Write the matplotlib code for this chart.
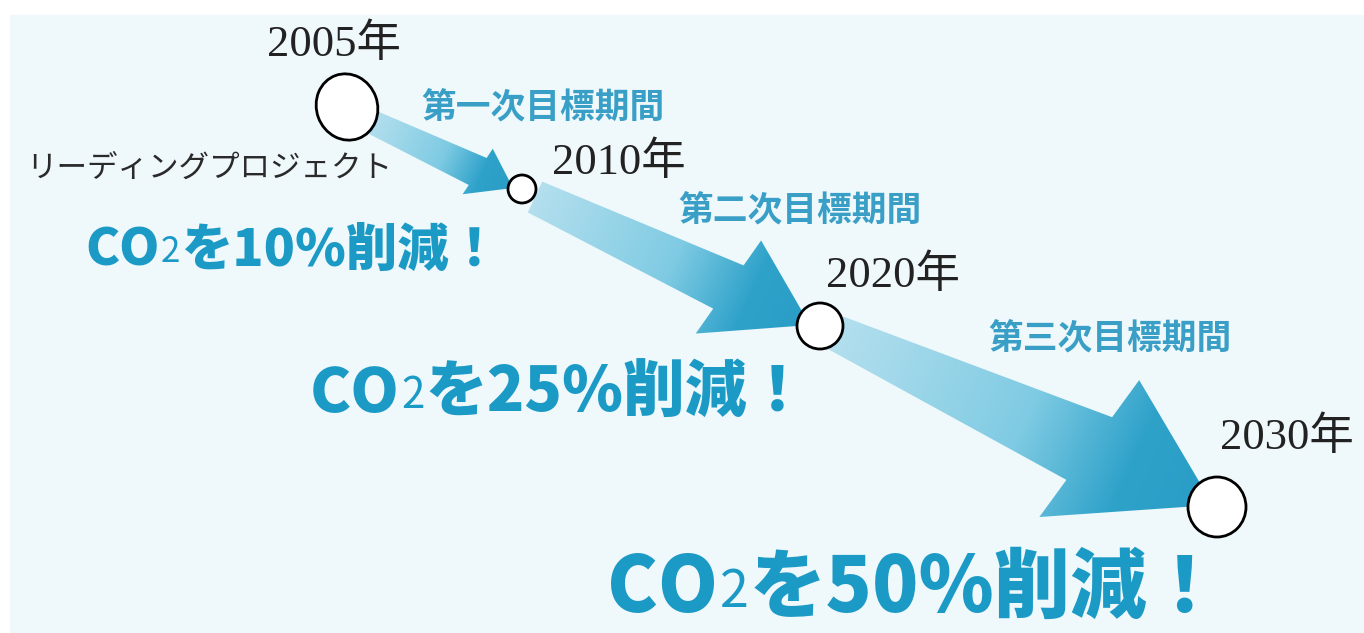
import numpy as np
import matplotlib
matplotlib.use("Agg")
import matplotlib.pyplot as plt
from matplotlib.patches import Polygon, Ellipse, Rectangle
from matplotlib.colors import LinearSegmentedColormap

# ─── DATA ───────────────────────────────────────────────────────────────────
years      = [2005, 2010, 2020, 2030]
cut_pct    = [10, 25, 50]
periods    = ["第一次目標期間", "第二次目標期間", "第三次目標期間"]
lead_label = "リーディングプロジェクト"

# ─── LAYOUT (pixels, y down) ────────────────────────────────────────────────
W, H = 1364, 633
node_xy   = [(347, 107), (522, 189), (820, 326), (1217, 507)]
node_wh   = [(61, 67), (28, 28), (46, 46), (58, 60)]
year_xy   = [(334, 44), (619, 162), (893, 275), (1287, 437)]
period_xy = [(543, 108), (800, 211), (1110, 339)]
big_xy    = [(85, 266), (310, 412), (607, 612)]
big_size  = [37, 44.5, 55]

arrow_tail = [(372, 122), (535, 197), (836, 333)]
arrow_tip  = [(513, 188), (810, 325), (1213, 505)]
shaft_w0   = [12, 17, 18]
shaft_w1   = [16, 26, 38]
head_hw    = [27, 56, 83]
head_len   = [39, 90, 136]
head_skew  = [4, 10, 17]

BLUE   = "#1b9ac6"
PERIOD = "#3a9fc6"
BG     = "#eff8fb"
JP     = ["Noto Sans CJK JP", "DejaVu Sans"]
SERIF  = ["Liberation Serif", "Noto Sans CJK JP"]

grad = LinearSegmentedColormap.from_list(
    "arr", [(0, "#b3dfee"), (0.5, "#7fcbe3"), (0.78, "#2fa2ca"), (1, "#2a9dc6")])

fig = plt.figure(figsize=(W / 100, H / 100), dpi=100)
ax = fig.add_axes([0, 0, 1, 1])
ax.set_xlim(0, W)
ax.set_ylim(H, 0)
ax.axis("off")

ax.add_patch(Rectangle((10, 15), W, H, color=BG, zorder=0))


def arrow_poly(tail, tip, w0, w1, hw, hl, sk):
    t = np.array(tail, float)
    p = np.array(tip, float)
    u = (p - t) / np.linalg.norm(p - t)
    n = np.array([u[1], -u[0]])          # "upper" side
    b = p - u * hl
    pts = [t + n * w0,
           b + u * sk * w1 / hw + n * w1,
           b + u * sk + n * hw,
           p,
           b - u * sk - n * hw,
           b - u * sk * w1 / hw - n * w1,
           t - n * w0]
    return np.array(pts), t, p, u


# ─── ARROWS ─────────────────────────────────────────────────────────────────
for i in range(3):
    pts, t, p, u = arrow_poly(arrow_tail[i], arrow_tip[i], shaft_w0[i],
                              shaft_w1[i], head_hw[i], head_len[i], head_skew[i])
    poly = Polygon(pts, closed=True, facecolor="none", edgecolor="none", zorder=2)
    ax.add_patch(poly)
    x0, y0 = pts.min(axis=0) - 2
    x1, y1 = pts.max(axis=0) + 2
    xs = np.linspace(x0, x1, 300)
    ys = np.linspace(y0, y1, 300)
    X, Y = np.meshgrid(xs, ys)
    length = np.linalg.norm(p - t)
    tt = np.clip(((X - t[0]) * u[0] + (Y - t[1]) * u[1]) / length, 0, 1)
    im = ax.imshow(tt, cmap=grad, vmin=0, vmax=1, origin="lower",
                   extent=(x0, x1, y0, y1), aspect="auto", zorder=2,
                   interpolation="bilinear")
    im.set_clip_path(poly)

ax.set_xlim(0, W)
ax.set_ylim(H, 0)

# ─── NODES ──────────────────────────────────────────────────────────────────
for i, (xy, wh) in enumerate(zip(node_xy, node_wh)):
    ax.add_patch(Ellipse(xy, wh[0], wh[1], angle=-20 if i == 0 else 0,
                         facecolor="white", edgecolor="black", lw=2, zorder=4))

for yr, xy in zip(years, year_xy):
    ax.text(xy[0], xy[1], f"{yr}年", family=SERIF, fontsize=32, color="#222222",
            ha="center", va="center", zorder=5)

for lab, xy in zip(periods, period_xy):
    ax.text(xy[0], xy[1], lab, family=JP, fontsize=25, color=PERIOD,
            fontweight="bold", style="italic", ha="center", va="center", zorder=5)

ax.text(209, 168, lead_label, family=JP, fontsize=22, color="#2a2a2a",
        style="italic", ha="center", va="center", zorder=5)

# ─── BIG "CO2 を xx% 削減！" LABELS ─────────────────────────────────────────
renderer = fig.canvas.get_renderer()
inv = ax.transData.inverted()


def right_edge(txt):
    bb = txt.get_window_extent(renderer)
    return inv.transform((bb.x1, bb.y0))[0]


for pct, (x, y), size in zip(cut_pct, big_xy, big_size):
    px = size / 0.72
    t1 = ax.text(x, y, "CO", family=JP, fontsize=size, fontweight="black",
                 color=BLUE, va="baseline", ha="left", zorder=5)
    xa = right_edge(t1)
    t2 = ax.text(xa + px * 0.02, y - px * 0.07, "2", family=JP, fontsize=size * 0.68,
                 fontweight="normal", color=BLUE, va="baseline", ha="left", zorder=5)
    xb = right_edge(t2)
    ax.text(xb + px * 0.02, y, f"を{pct}%削減！", family=JP, fontsize=size,
            fontweight="black", color=BLUE, va="baseline", ha="left", zorder=5)

fig.savefig("out.png", dpi=100, facecolor="white")
